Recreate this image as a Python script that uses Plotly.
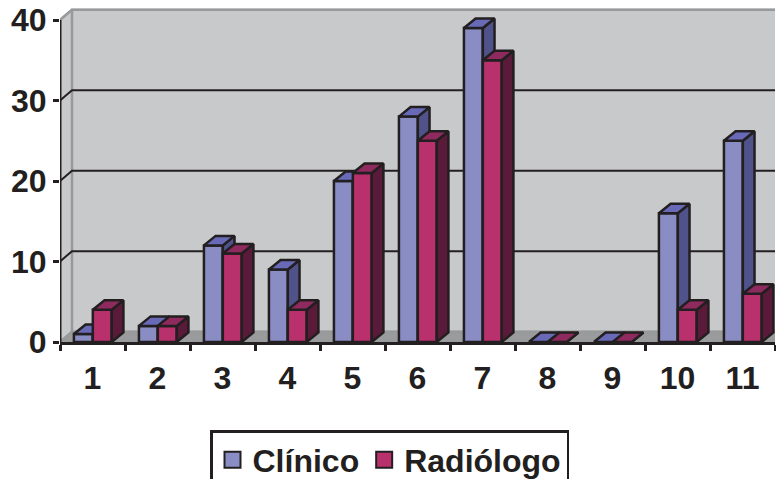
import plotly.graph_objects as go

categories = [1, 2, 3, 4, 5, 6, 7, 8, 9, 10, 11]
clinico = [1, 2, 12, 9, 20, 28, 39, 0, 0, 16, 25]
radiologo = [4, 2, 11, 4, 21, 25, 35, 0, 0, 4, 6]
y_ticks = [0, 10, 20, 30, 40]
grid_values = [10, 20, 30]

INK = "#231f20"
WALL = "#c8c9cb"
FLOOR = "#9a9b9c"
EDGE = "#97999b"
FONT = "Liberation Sans"

X0, X1 = 0.5, 11.5
Y_TOP = 342 / 8.05
WALL_DX, WALL_DY = 12 / 65, 10.3 / 8.05
BAR_DX, BAR_DY = 11.7 / 65, 9.5 / 8.05
BAR_W = 18.9 / 65


def poly_trace(xs, ys, color, axes, line=None, lw=2.5):
    return go.Scatter(
        x=xs, y=ys, mode="lines", fill="toself", fillcolor=color,
        line=dict(color=line or color, width=lw),
        xaxis=axes[0], yaxis=axes[1], hoverinfo="skip", showlegend=False,
    )


def line_trace(xs, ys, color, width):
    return go.Scatter(x=xs, y=ys, mode="lines", line=dict(color=color, width=width),
                      hoverinfo="skip", showlegend=False)


def bar_faces(values, offset):
    side_x, side_y, top_x, top_y = [], [], [], []
    for c, v in zip(categories, values):
        left = c + offset
        right = left + BAR_W
        side_x += [right, right + BAR_DX, right + BAR_DX, right, right, None]
        side_y += [0, BAR_DY, v + BAR_DY, v, 0, None]
        top_x += [left, left + BAR_DX, right + BAR_DX, right, left, None]
        top_y += [v, v + BAR_DY, v + BAR_DY, v, v, None]
    return side_x, side_y, top_x, top_y


def series(values, offset, front, top, side, axes):
    sx, sy, tx, ty = bar_faces(values, offset)
    return [
        go.Bar(x=categories, y=values, width=BAR_W, offset=offset, base=0,
               marker=dict(color=front, line=dict(color=INK, width=2.5)),
               xaxis=axes[0], yaxis=axes[1], showlegend=False, hoverinfo="skip"),
        poly_trace(sx, sy, side, axes, INK),
        poly_trace(tx, ty, top, axes, INK),
    ]


fig = go.Figure()

# walls and floor
WX, WY = X0 + WALL_DX, WALL_DY
back_top = y_ticks[-1] + WALL_DY
end = X1 + 1
fig.add_trace(poly_trace([WX, end, end, WX, WX], [WY, WY, back_top, back_top, WY], WALL, ("x", "y")))
fig.add_trace(poly_trace([X0, WX, WX, X0, X0], [0, WY, back_top, y_ticks[-1], 0], WALL, ("x", "y")))
fig.add_trace(poly_trace([X0, WX, end, end, X0], [0, WY, WY, 0, 0], FLOOR, ("x", "y")))
fig.add_trace(line_trace([X0, WX, WX, end], [y_ticks[-1], back_top, back_top, back_top], EDGE, 2.5))
fig.add_trace(line_trace([X0, WX, WX, end], [0, WY, WY, WY], EDGE, 2))
fig.add_trace(line_trace([WX, WX], [WY, back_top], EDGE, 2.5))
for g in grid_values:
    fig.add_trace(line_trace([X0, WX, end], [g, g + WALL_DY, g + WALL_DY], INK, 2))
fig.add_trace(line_trace([X0, X0], [0, y_ticks[-1]], INK, 3))

# bars, one overlaid pair of axes per series so that the faces stack correctly
for t in series(clinico, -BAR_W + 0.005, "#8a8cc4", "#686ab8", "#50528a", ("x2", "y2")):
    fig.add_trace(t)
for t in series(radiologo, 0.005, "#b8316c", "#8e2a5e", "#5a1a3a", ("x3", "y3")):
    fig.add_trace(t)

# legend entries
for name, color in (("Clínico", "#8a8cc4"), ("Radiólogo", "#b8316c")):
    fig.add_trace(go.Scatter(
        x=[None], y=[None], mode="markers", name=name,
        marker=dict(symbol="square", size=16, color=color, line=dict(color=INK, width=2)),
        xaxis="x3", yaxis="y3",
    ))

overlay = dict(range=[X0, X1], visible=False, fixedrange=True)
overlay_y = dict(range=[0, Y_TOP], visible=False, fixedrange=True)
half_ticks = [c - 0.5 for c in categories] + [categories[-1] + 0.5]

fig.update_layout(
    width=776, height=479,
    margin=dict(l=60, r=1, t=0, b=137, pad=0),
    paper_bgcolor="white", plot_bgcolor="white",
    font=dict(family=FONT, size=32, color=INK),
    xaxis=dict(
        range=[X0, X1], tickmode="array", tickvals=categories,
        ticktext=[str(c) for c in categories],
        ticks="outside", ticklen=6, tickcolor="rgba(0,0,0,0)",
        tickfont=dict(family=FONT, size=32, color=INK, weight="bold"),
        minor=dict(tickmode="array", tickvals=half_ticks, ticks="outside", ticklen=6, tickwidth=2.5, tickcolor=INK),
        showgrid=False, zeroline=False, showline=True, linecolor=INK, linewidth=3, fixedrange=True,
    ),
    yaxis=dict(
        range=[0, Y_TOP], tickmode="array", tickvals=y_ticks,
        ticks="outside", ticklen=6, tickwidth=2.5, tickcolor=INK,
        tickfont=dict(family=FONT, size=32, color=INK, weight="bold"),
        showgrid=False, zeroline=False, showline=False, fixedrange=True,
    ),
    xaxis2=dict(overlaying="x", **overlay),
    yaxis2=dict(overlaying="y", **overlay_y),
    xaxis3=dict(overlaying="x", **overlay),
    yaxis3=dict(overlaying="y", **overlay_y),
    showlegend=True,
    legend=dict(
        orientation="h", xref="container", yref="container",
        x=210 / 776, xanchor="left", y=1 - 430 / 479, yanchor="top",
        bgcolor="white", bordercolor=INK, borderwidth=2.5,
        font=dict(family=FONT, size=32, color=INK, weight="bold"),
        itemwidth=30, traceorder="normal",
    ),
)

fig.write_html("out.html", config={"displayModeBar": False},
               post_script="document.body.style.margin='0';document.body.style.overflow='hidden';")
